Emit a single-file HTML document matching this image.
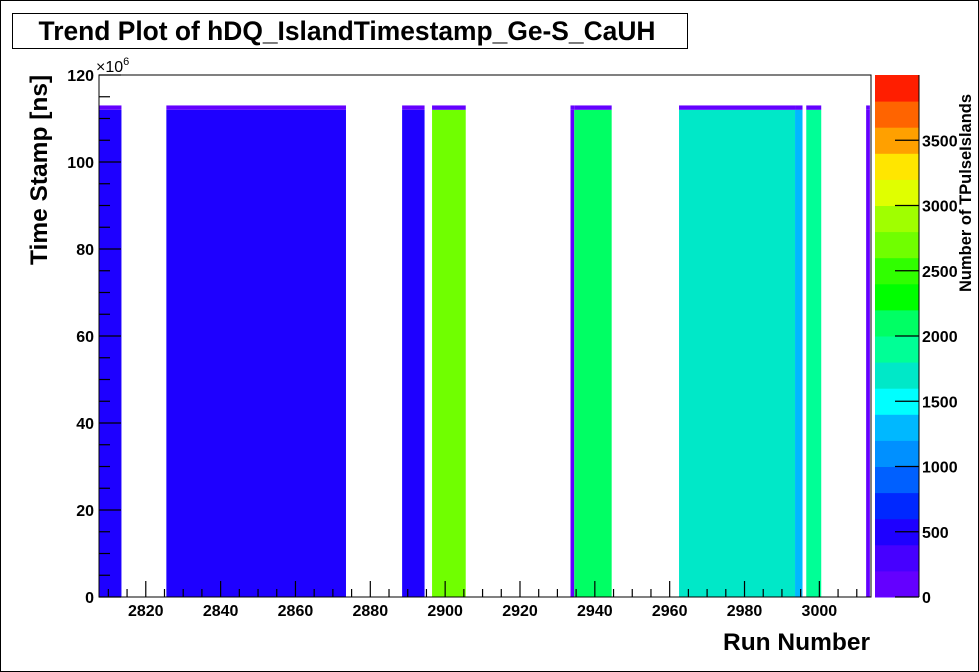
<!DOCTYPE html>
<html><head><meta charset="utf-8"><style>
html,body{margin:0;padding:0;background:#fff;}
svg{display:block;font-family:"Liberation Sans",sans-serif;font-weight:bold;}
</style></head><body>
<svg id="chart" width="979" height="672" viewBox="0 0 979 672" xmlns="http://www.w3.org/2000/svg">
<rect x="0.5" y="0.5" width="978" height="671" fill="#fff" stroke="#000" stroke-width="1"/>
<g>
<rect x="12.5" y="13.5" width="675" height="35" fill="#fff" stroke="#000" stroke-width="1"/>
<text x="347" y="40" font-size="26.4" text-anchor="middle">Trend Plot of hDQ_IslandTimestamp_Ge-S_CaUH</text>
</g>
<g id="cells"></g>
<g id="axes"></g>
<g id="palette"></g>
<text transform="translate(47,265) rotate(-90)" font-size="24.5">Time Stamp [ns]</text>
<text x="870" y="650" font-size="24.5" text-anchor="end">Run Number</text>
<text transform="translate(971,292) rotate(-90)" font-size="16.5">Number of TPulseIslands</text>
<text x="96" y="72" font-size="16" font-weight="normal">×10<tspan dy="-7" font-size="11">6</tspan></text>
</svg>
<script>
// ---- data ----
const runStarts = [2808, 2826, 2889, 2897, 2934, 2935, 2963, 2994, 2997, 3013];
const runEnds   = [2813, 2873, 2894, 2905, 2934, 2944, 2993, 2995, 3000, 3013];
const runValues = [480, 500, 480, 2700, 120, 2050, 1700, 1250, 1900, 60];
const timeMax = 112;      // ×10^6 ns, top of main bins
const topBinValue = 100;  // value in last time bin (112-113)
const xTicks = [2820, 2840, 2860, 2880, 2900, 2920, 2940, 2960, 2980, 3000];
const yTicks = [0, 20, 40, 60, 80, 100, 120];
const zTicks = [0, 500, 1000, 1500, 2000, 2500, 3000, 3500];
const paletteColors = ["#6400ff","#4600ff","#1e00ff","#0028ff","#0060ff","#0090ff","#00b8ff","#00ffff","#00e8c8","#00ff96","#00ff64","#00ff00","#30ff00","#70ff00","#a0ff00","#e0ff00","#ffe600","#ffa000","#ff6400","#ff1e00"];

// ---- scales ----
const X0 = 99, X1 = 871, Y0 = 597, Y1 = 75;
const xMin = 2807.5, xMax = 3013.8, yMin = 0, yMax = 120, zMax = 4000;
const xs = v => X0 + (v - xMin) / (xMax - xMin) * (X1 - X0);
const ys = v => Y0 - (v - yMin) / (yMax - yMin) * (Y0 - Y1);
const nBands = 20;
const color = z => paletteColors[Math.max(0, Math.min(nBands - 1, Math.floor(z / zMax * nBands)))];
const NS = "http://www.w3.org/2000/svg";
function mk(tag, attrs, parent) { const e = document.createElementNS(NS, tag); for (const k in attrs) e.setAttribute(k, attrs[k]); parent.appendChild(e); return e; }

const cells = document.getElementById('cells');
for (let i = 0; i < runStarts.length; i++) {
  const xa = xs(runStarts[i] - 0.5), xb = xs(runEnds[i] + 0.5);
  const r = mk('rect', {x: xa, y: ys(timeMax), width: xb - xa, height: ys(0) - ys(timeMax), fill: color(runValues[i])}, cells);
  
  
  const t = mk('rect', {x: xa, y: ys(timeMax + 1), width: xb - xa, height: ys(timeMax) - ys(timeMax + 1), fill: color(topBinValue)}, cells);
  
  
}

const axes = document.getElementById('axes');
const frame = mk('rect', {x: X0, y: Y1, width: X1 - X0, height: Y0 - Y1, fill: 'none', stroke: '#000', 'stroke-width': 1}, axes);


for (let v = 2810; v <= 3010; v += 5) {
  const major = v % 20 === 0;
  mk('line', {x1: xs(v), x2: xs(v), y1: Y0, y2: Y0 - (major ? 16 : 8), stroke: '#000', 'stroke-width': 1.2}, axes);
}
xTicks.forEach(v => {
  const t = mk('text', {x: xs(v), y: 616, 'font-size': 16, 'text-anchor': 'middle'}, axes);
  t.textContent = v;
  
  
});
for (let v = 0; v <= 120; v += 5) {
  const major = v % 20 === 0;
  mk('line', {x1: X0, x2: X0 + (major ? 22 : 11), y1: ys(v), y2: ys(v), stroke: '#000', 'stroke-width': 1.2}, axes);
}
yTicks.forEach(v => {
  const t = mk('text', {x: 94, y: ys(v) + 6, 'font-size': 16, 'text-anchor': 'end'}, axes);
  t.textContent = v;
  
  
});

const pal = document.getElementById('palette');
const PX0 = 875, PX1 = 919;
const pz = v => Y0 - v / zMax * (Y0 - Y1);
for (let b = 0; b < nBands; b++) {
  const za = b * zMax / nBands, zb = (b + 1) * zMax / nBands;
  const r = mk('rect', {x: PX0, y: pz(zb), width: PX1 - PX0, height: pz(za) - pz(zb) + 0.5, fill: color((za + zb) / 2)}, pal);
  
  
}
zTicks.forEach(v => {
  const y = pz(v);
  mk('line', {x1: PX1 - 24, x2: PX1, y1: y, y2: y, stroke: '#000', 'stroke-width': 1.2}, pal);
  const t = mk('text', {x: 922, y: y + 6, 'font-size': 16}, pal);
  t.textContent = v;
  
  
});
mk('line', {x1: PX1, x2: PX1, y1: Y1, y2: Y0, stroke: '#000', 'stroke-width': 1}, pal);
</script>
</body></html>
